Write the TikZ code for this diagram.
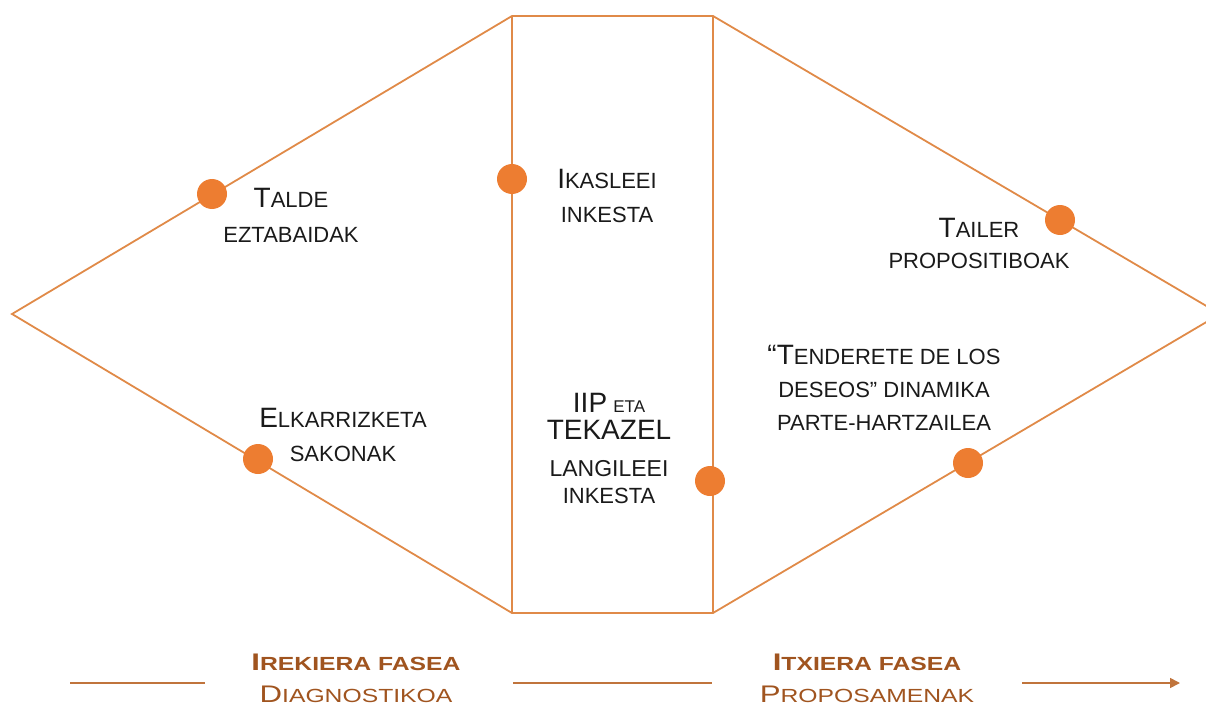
\documentclass[tikz,border=0pt]{standalone}
\usepackage{fontspec}
\setmainfont{Liberation Sans}
\newfontfamily\botfont[FakeStretch=1.3]{Liberation Sans}
\usetikzlibrary{arrows.meta}
\definecolor{linecol}{HTML}{E08A48}
\definecolor{dotcol}{HTML}{ED7D31}
\definecolor{textcol}{HTML}{1A1A1A}
\definecolor{botcol}{HTML}{A0541F}
\definecolor{botline}{HTML}{C0743C}
\newcommand\bcap[1]{{\fontsize{28}{34}\selectfont #1}}
\newcommand\bbcap[1]{{\fontsize{24}{32}\selectfont #1}}
\begin{document}
\begin{tikzpicture}[x=1pt,y=-1pt,
  diag/.style={draw=linecol,line width=1.8pt,line join=miter},
  dot/.style={circle,fill=dotcol,inner sep=0pt,minimum size=30pt},
  lbl/.style={anchor=base,align=center,inner sep=0pt,text=textcol,font=\fontsize{22}{34}\selectfont},
  bot/.style={anchor=base,align=center,inner sep=0pt,text=botcol,font=\botfont\fontsize{19}{32}\selectfont},
  botln/.style={draw=botline,line width=1.6pt}]
\useasboundingbox (0,0) rectangle (1206,714);
\coordinate (L) at (12,314);
\coordinate (TL) at (512,16);
\coordinate (TR) at (713,16);
\coordinate (R) at (1220,314);
\coordinate (BR) at (713,613);
\coordinate (BL) at (512,613);
\begin{scope}
\clip (0,0) rectangle (1206,714);
\draw[diag] (L) -- (TL) -- (TR) -- (R) -- (BR) -- (BL) -- cycle;
\draw[diag] (TL) -- (BL);
\draw[diag] (TR) -- (BR);
\end{scope}
% dots
\node[dot] (d1) at (212,194) {};
\node[dot] (d2) at (512,179) {};
\node[dot] (d3) at (258,459) {};
\node[dot] (d4) at (710,481) {};
\node[dot] (d5) at (1060,220) {};
\node[dot] (d6) at (968,463) {};
% labels (anchor base = baseline of last line)
\node[lbl,font=\fontsize{22}{35}\selectfont] (talde) at (291,242) {\bcap{T}ALDE\\EZTABAIDAK};
\node[lbl] (ikasleei) at (607,222) {\bcap{I}KASLEEI\\INKESTA};
\node[lbl] (elkar) at (343,461) {\bcap{E}LKARRIZKETA\\SAKONAK};
\node[lbl,font=\fontsize{22}{27}\selectfont] (iip) at (609,503) {\bcap{IIP} {\fontsize{17}{27}\selectfont ETA}\\\bcap{TEKAZEL}\\[10pt]{\fontsize{23}{27}\selectfont LANGILEEI}\\INKESTA};
\node[lbl,font=\fontsize{22}{33}\selectfont] (tenderete) at (884,430) {\bcap{“T}ENDERETE DE LOS\\DESEOS” DINAMIKA\\PARTE-HARTZAILEA};
\node[lbl,font=\fontsize{22}{31}\selectfont] (tailer) at (979,268) {\bcap{T}AILER\\PROPOSITIBOAK};
% bottom
\coordinate (a1) at (70,683);
\coordinate (a2) at (205,683);
\coordinate (b1) at (513,683);
\coordinate (b2) at (712,683);
\coordinate (c1) at (1022,683);
\coordinate (c2) at (1180,683);
\draw[botln] (a1) -- (a2);
\draw[botln] (b1) -- (b2);
\draw[botln,-{Triangle[length=10pt,width=10pt]}] (c1) -- (c2);
\node[bot] (irekiera) at (356,702) {\textbf{\bbcap{I}REKIERA FASEA}\\\bbcap{D}IAGNOSTIKOA};
\node[bot] (itxiera) at (867,702) {\textbf{\bbcap{I}TXIERA FASEA}\\\bbcap{P}ROPOSAMENAK};
\end{tikzpicture}
\end{document}
